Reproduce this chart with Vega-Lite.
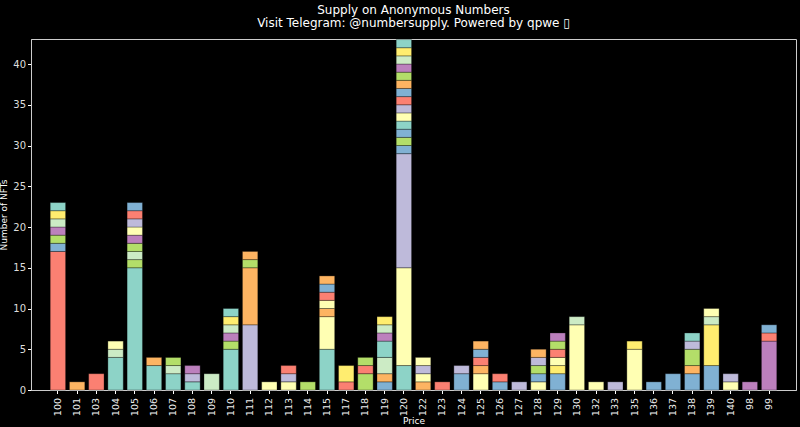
{
  "$schema": "https://vega.github.io/schema/vega-lite/v6.json",
  "autosize": {"type": "none"},
  "padding": {"left": 31, "top": 39, "right": 4, "bottom": 37},
  "width": 765,
  "height": 351,
  "background": "#000000",
  "config": {
    "view": {"stroke": "#cccccc", "strokeWidth": 1},
    "font": "DejaVu Sans"
  },
  "title": {
    "text": ["Supply on Anonymous Numbers", "Visit Telegram: @numbersupply. Powered by qpwe ▯"],
    "fontSize": 12,
    "fontWeight": "normal",
    "color": "#ffffff",
    "lineHeight": 13,
    "offset": 9,
    "anchor": "middle"
  },
  "data": {"values": [
    {"p":"100","k":1,"n":17,"c":"salmon"},{"p":"100","k":2,"n":1,"c":"blue"},{"p":"100","k":3,"n":1,"c":"green"},{"p":"100","k":4,"n":1,"c":"purple"},{"p":"100","k":5,"n":1,"c":"mint"},{"p":"100","k":6,"n":1,"c":"yellow"},{"p":"100","k":7,"n":1,"c":"teal"},
    {"p":"101","k":1,"n":1,"c":"orange"},
    {"p":"103","k":1,"n":2,"c":"salmon"},
    {"p":"104","k":1,"n":4,"c":"teal"},{"p":"104","k":2,"n":1,"c":"mint"},{"p":"104","k":3,"n":1,"c":"lightyellow"},
    {"p":"105","k":1,"n":15,"c":"teal"},{"p":"105","k":2,"n":1,"c":"green"},{"p":"105","k":3,"n":1,"c":"mint"},{"p":"105","k":4,"n":1,"c":"green"},{"p":"105","k":5,"n":1,"c":"purple"},{"p":"105","k":6,"n":1,"c":"lightyellow"},{"p":"105","k":7,"n":1,"c":"lavender"},{"p":"105","k":8,"n":1,"c":"salmon"},{"p":"105","k":9,"n":1,"c":"blue"},
    {"p":"106","k":1,"n":3,"c":"teal"},{"p":"106","k":2,"n":1,"c":"orange"},
    {"p":"107","k":1,"n":2,"c":"teal"},{"p":"107","k":2,"n":1,"c":"mint"},{"p":"107","k":3,"n":1,"c":"green"},
    {"p":"108","k":1,"n":1,"c":"teal"},{"p":"108","k":2,"n":1,"c":"lavender"},{"p":"108","k":3,"n":1,"c":"purple"},
    {"p":"109","k":1,"n":2,"c":"mint"},
    {"p":"110","k":1,"n":5,"c":"teal"},{"p":"110","k":2,"n":1,"c":"green"},{"p":"110","k":3,"n":1,"c":"purple"},{"p":"110","k":4,"n":1,"c":"mint"},{"p":"110","k":5,"n":1,"c":"yellow"},{"p":"110","k":6,"n":1,"c":"teal"},
    {"p":"111","k":1,"n":8,"c":"lavender"},{"p":"111","k":2,"n":7,"c":"orange"},{"p":"111","k":3,"n":1,"c":"green"},{"p":"111","k":4,"n":1,"c":"orange"},
    {"p":"112","k":1,"n":1,"c":"lightyellow"},
    {"p":"113","k":1,"n":1,"c":"lightyellow"},{"p":"113","k":2,"n":1,"c":"lavender"},{"p":"113","k":3,"n":1,"c":"salmon"},
    {"p":"114","k":1,"n":1,"c":"green"},
    {"p":"115","k":1,"n":5,"c":"teal"},{"p":"115","k":2,"n":4,"c":"lightyellow"},{"p":"115","k":3,"n":1,"c":"orange"},{"p":"115","k":4,"n":1,"c":"lightyellow"},{"p":"115","k":5,"n":1,"c":"salmon"},{"p":"115","k":6,"n":1,"c":"blue"},{"p":"115","k":7,"n":1,"c":"orange"},
    {"p":"117","k":1,"n":1,"c":"salmon"},{"p":"117","k":2,"n":2,"c":"yellow"},
    {"p":"118","k":1,"n":2,"c":"green"},{"p":"118","k":2,"n":1,"c":"salmon"},{"p":"118","k":3,"n":1,"c":"green"},
    {"p":"119","k":1,"n":1,"c":"blue"},{"p":"119","k":2,"n":1,"c":"orange"},{"p":"119","k":3,"n":2,"c":"mint"},{"p":"119","k":4,"n":2,"c":"teal"},{"p":"119","k":5,"n":1,"c":"purple"},{"p":"119","k":6,"n":1,"c":"mint"},{"p":"119","k":7,"n":1,"c":"yellow"},
    {"p":"120","k":1,"n":3,"c":"teal"},{"p":"120","k":2,"n":12,"c":"lightyellow"},{"p":"120","k":3,"n":14,"c":"lavender"},{"p":"120","k":4,"n":1,"c":"blue"},{"p":"120","k":5,"n":1,"c":"green"},{"p":"120","k":6,"n":1,"c":"blue"},{"p":"120","k":7,"n":1,"c":"teal"},{"p":"120","k":8,"n":1,"c":"lightyellow"},{"p":"120","k":9,"n":1,"c":"lavender"},{"p":"120","k":10,"n":1,"c":"salmon"},{"p":"120","k":11,"n":1,"c":"blue"},{"p":"120","k":12,"n":1,"c":"orange"},{"p":"120","k":13,"n":1,"c":"green"},{"p":"120","k":14,"n":1,"c":"purple"},{"p":"120","k":15,"n":1,"c":"mint"},{"p":"120","k":16,"n":1,"c":"yellow"},{"p":"120","k":17,"n":1,"c":"teal"},
    {"p":"122","k":1,"n":1,"c":"orange"},{"p":"122","k":2,"n":1,"c":"lightyellow"},{"p":"122","k":3,"n":1,"c":"lavender"},{"p":"122","k":4,"n":1,"c":"lightyellow"},
    {"p":"123","k":1,"n":1,"c":"salmon"},
    {"p":"124","k":1,"n":2,"c":"blue"},{"p":"124","k":2,"n":1,"c":"lavender"},
    {"p":"125","k":1,"n":2,"c":"lightyellow"},{"p":"125","k":2,"n":1,"c":"orange"},{"p":"125","k":3,"n":1,"c":"salmon"},{"p":"125","k":4,"n":1,"c":"blue"},{"p":"125","k":5,"n":1,"c":"orange"},
    {"p":"126","k":1,"n":1,"c":"blue"},{"p":"126","k":2,"n":1,"c":"salmon"},
    {"p":"127","k":1,"n":1,"c":"lavender"},
    {"p":"128","k":1,"n":1,"c":"lightyellow"},{"p":"128","k":2,"n":1,"c":"blue"},{"p":"128","k":3,"n":1,"c":"green"},{"p":"128","k":4,"n":1,"c":"lavender"},{"p":"128","k":5,"n":1,"c":"orange"},
    {"p":"129","k":1,"n":2,"c":"blue"},{"p":"129","k":2,"n":1,"c":"yellow"},{"p":"129","k":3,"n":1,"c":"lightyellow"},{"p":"129","k":4,"n":1,"c":"salmon"},{"p":"129","k":5,"n":1,"c":"green"},{"p":"129","k":6,"n":1,"c":"purple"},
    {"p":"130","k":1,"n":8,"c":"lightyellow"},{"p":"130","k":2,"n":1,"c":"mint"},
    {"p":"132","k":1,"n":1,"c":"lightyellow"},
    {"p":"133","k":1,"n":1,"c":"lavender"},
    {"p":"135","k":1,"n":5,"c":"lightyellow"},{"p":"135","k":2,"n":1,"c":"yellow"},
    {"p":"136","k":1,"n":1,"c":"blue"},
    {"p":"137","k":1,"n":2,"c":"blue"},
    {"p":"138","k":1,"n":2,"c":"blue"},{"p":"138","k":2,"n":1,"c":"orange"},{"p":"138","k":3,"n":2,"c":"green"},{"p":"138","k":4,"n":1,"c":"lavender"},{"p":"138","k":5,"n":1,"c":"teal"},
    {"p":"139","k":1,"n":3,"c":"blue"},{"p":"139","k":2,"n":5,"c":"yellow"},{"p":"139","k":3,"n":1,"c":"mint"},{"p":"139","k":4,"n":1,"c":"lightyellow"},
    {"p":"140","k":1,"n":1,"c":"lightyellow"},{"p":"140","k":2,"n":1,"c":"lavender"},
    {"p":"98","k":1,"n":1,"c":"purple"},
    {"p":"99","k":1,"n":6,"c":"purple"},{"p":"99","k":2,"n":1,"c":"salmon"},{"p":"99","k":3,"n":1,"c":"blue"}
  ]},
  "mark": {"type": "bar", "stroke": "#000000", "strokeWidth": 0.3},
  "encoding": {
    "x": {
      "field": "p", "type": "nominal",
      "scale": {
        "domain": ["100","101","103","104","105","106","107","108","109","110","111","112","113","114","115","117","118","119","120","122","123","124","125","126","127","128","129","130","132","133","135","136","137","138","139","140","98","99"],
        "paddingInner": 0.2, "paddingOuter": 1.89
      },
      "axis": {
        "title": "Price", "titleColor": "#ffffff", "titleFontSize": 9, "titleFontWeight": "normal", "titlePadding": 1,
        "labelAngle": 270, "labelAlign": "right", "labelBaseline": "middle", "labelFontSize": 9.5, "labelColor": "#eeeeee", "labelPadding": 4,
        "domainColor": "#cccccc", "tickColor": "#ffffff", "tickSize": 3.5, "grid": false
      }
    },
    "y": {
      "field": "n", "type": "quantitative", "stack": "zero",
      "scale": {"domain": [0, 43.07], "nice": false, "zero": true},
      "axis": {
        "title": "Number of NFTs", "titleColor": "#ffffff", "titleFontSize": 9, "titleFontWeight": "normal", "titlePadding": 4,
        "values": [0,5,10,15,20,25,30,35,40], "labelFontSize": 10, "labelColor": "#dddddd", "labelPadding": 2,
        "domainColor": "#cccccc", "tickColor": "#ffffff", "tickSize": 3.5, "grid": false
      }
    },
    "order": {"field": "k", "type": "quantitative"},
    "color": {
      "field": "c", "type": "nominal", "legend": null,
      "scale": {
        "domain": ["teal","lightyellow","lavender","salmon","blue","orange","green","pink","grey","purple","mint","yellow"],
        "range": ["#8dd3c7","#ffffb3","#bebada","#fb8072","#80b1d3","#fdb462","#b3de69","#fccde5","#d9d9d9","#bc80bd","#ccebc5","#ffed6f"]
      }
    }
  }
}
